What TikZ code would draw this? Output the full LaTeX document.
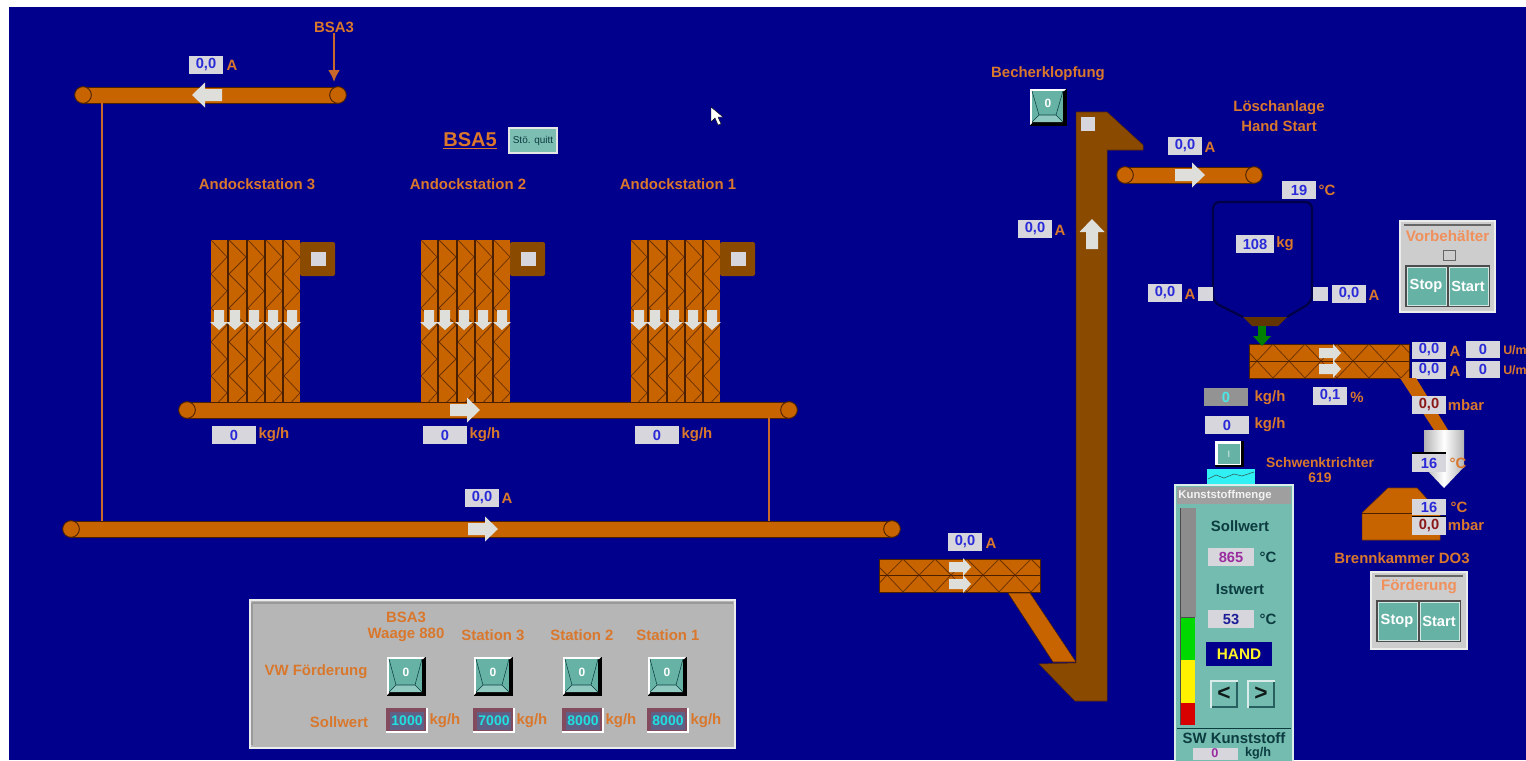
\documentclass[tikz,border=0pt]{standalone}
\usepackage{fontspec}
\usetikzlibrary{arrows.meta}
\setmainfont{Liberation Sans}
\definecolor{bgnavy}{HTML}{00008C}
\definecolor{belt}{HTML}{C86400}
\definecolor{brownd}{HTML}{8A4A00}
\definecolor{edge}{HTML}{4A2000}
\definecolor{lbl}{HTML}{D9782D}
\definecolor{salmon}{HTML}{F0905C}
\definecolor{boxg}{HTML}{D6D6DC}
\definecolor{valblue}{HTML}{2A2AD8}
\definecolor{teal}{HTML}{66B3A6}
\definecolor{tealb}{HTML}{74BCB0}
\definecolor{tealdark}{HTML}{0C3C40}
\definecolor{panelg}{HTML}{B6B6B6}
\definecolor{panell}{HTML}{CDCDCD}
\definecolor{arrg}{HTML}{DEDEDA}
\definecolor{feedl}{HTML}{C8682C}
\definecolor{hop}{HTML}{000048}
\definecolor{darkred}{HTML}{8A1818}
\definecolor{purp}{HTML}{9A2CA0}
\definecolor{cyanv}{HTML}{20E0E0}
\definecolor{cyanp}{HTML}{30F0F4}
\newcounter{nn}
\tikzset{
  x=0.75pt,y=-0.75pt,
  lbltxt/.style={text=lbl,font=\fontsize{11.2}{13}\selectfont\bfseries,inner sep=0pt},
  lblsm/.style={text=lbl,font=\fontsize{10.4}{12}\selectfont\bfseries,inner sep=0pt},
  darktxt/.style={text=tealdark,font=\fontsize{11.2}{13}\selectfont\bfseries,inner sep=0pt},
  valnode/.style={fill=boxg,inner sep=0pt,font=\fontsize{11}{12}\selectfont\bfseries},
  zz/.style={draw=edge!75!belt,line width=0.55pt},
  beltbar/.style={fill=belt,draw=edge,line width=0.7pt,inner sep=0pt},
  wheel/.style={circle,fill=belt,draw=edge,line width=0.7pt,inner sep=0pt,minimum size=12.5pt},
  feed/.style={draw=feedl,line width=2pt},
  arrshape/.style={fill=arrg,draw=none},
}
% text label
\newcommand{\lab}[4][lbltxt]{\stepcounter{nn}\node[#1] (t\arabic{nn}) at (#2,#3) {#4};}
% value box: cx cy w h text colour
\newcommand{\val}[6]{\stepcounter{nn}\node[valnode,text=#6,minimum width=#3*0.75pt,minimum height=#4*0.75pt] (v\arabic{nn}) at (#1,#2) {#5};}
% block arrow: cx cy rot halflen
\newcommand{\blk}[4]{\begin{scope}[shift={(#1,#2)},rotate=#3]
  \fill[arrshape] (-#4,-6)--(#4-13,-6)--(#4-13,-12.5)--(#4,0)--(#4-13,12.5)--(#4-13,6)--(-#4,6)--cycle;\end{scope}}
\newcommand{\blks}[4]{\begin{scope}[shift={(#1,#2)},rotate=#3]
  \fill[arrshape] (-#4,-5)--(#4-8,-5)--(#4-8,-9)--(#4,0)--(#4-8,9)--(#4-8,5)--(-#4,5)--cycle;\end{scope}}
% belt: name xL xR y
\newcommand{\beltc}[4]{\node[beltbar,minimum width={(#3-#2)*0.75pt},minimum height=12pt] (#1) at ({(#2+#3)/2},#4) {};
  \node[wheel] (#1L) at (#2,#4) {}; \node[wheel] (#1R) at (#3,#4) {};}
% horizontal screw row; the zigzag starts on the edge at y=#2
\newcommand{\hscrew}[4]{\fill[belt] (#1,#2) rectangle (#3,#4);
  \begin{scope}\clip (#1,#2) rectangle (#3,#4);
  \foreach \t in {-8,24,...,170}{\draw[zz] (#1+\t,#2)--(#1+\t+16,#4)--(#1+\t+32,#2);}
  \end{scope}\draw[edge,line width=0.7pt] (#1,#2) rectangle (#3,#4);}
% vertical screw column
\newcommand{\vscrew}[4]{\fill[belt] (#1,#2) rectangle (#3,#4);
  \begin{scope}\clip (#1,#2) rectangle (#3,#4);
  \foreach \t in {0,34,...,170}{\draw[zz] (#1,#2+\t)--(#3,#2+\t+17)--(#1,#2+\t+34);}
  \end{scope}}
% dock station
\newcommand{\dock}[1]{\begin{scope}[shift={(#1,0)}]
  \foreach \a/\b in {211/227,229/246,248/264,266/282,284/300}{\vscrew{\a}{240}{\b}{402}}
  \foreach \a/\b in {228/228,247/247,265/265,283/283}{\draw[edge,line width=1pt] (\a,240)--(\b,402);}
  \fill[brownd,rounded corners=1.5pt] (300,242) rectangle (335,276);
  \fill[boxg] (311,252) rectangle (326,266);
  \foreach \c in {219,235,254,273,292}{\blks{\c}{320}{-90}{10}}
  \end{scope}}
% pushbutton: cx cy half text
\newcommand{\btn}[4][white]{\begin{scope}[shift={(#2,#3)}]
  \fill[black] (-#4,-#4)--(#4+1,-#4)--(#4+1,#4+1)--(-#4,#4+1)--cycle;
  \fill[white] (-#4,-#4)--(#4,-#4)--(#4-2,-#4+2)--(-#4+2,-#4+2)--(-#4+2,#4-2)--(-#4,#4)--cycle;
  \fill[teal] (-#4+2,-#4+2) rectangle (#4-3,#4-3);
  \fill[tealb!80!white] (-#4+2,#4-3)--(-#4+9,#4-10)--(#4-10,#4-10)--(#4-3,#4-3)--cycle;
  \draw[tealdark,line width=0.4pt] (-#4+2,-#4+2)--(-#4+9,#4-10)--(#4-10,#4-10)--(#4-3,-#4+2) (-#4+2,#4-3)--(-#4+9,#4-10) (#4-10,#4-10)--(#4-3,#4-3);
  \stepcounter{nn}\node[inner sep=0pt,text=white,font=\fontsize{9}{10}\selectfont\bfseries] (b\arabic{nn}) at (0,-4) {#1};
  \end{scope}}
% recessed setpoint box
\newcommand{\setp}[3]{\fill[white] (#1,#2) rectangle (#1+42,#2+25);
  \fill[black!60!purple!70!white] (#1,#2) rectangle (#1+40,#2+23);
  \stepcounter{nn}\node[fill=black!40!blue!25!gray,inner sep=0pt,minimum width=26pt,minimum height=14pt,text=cyanv,font=\fontsize{10.5}{11}\selectfont\bfseries] (s\arabic{nn}) at (#1+21,#2+13) {#3};
  \lab{#1+59}{#2+13}{kg/h}}
% stop/start panel
\newcommand{\stopstart}[6]{\fill[panell,draw=white!85!gray,line width=2pt] (#1,#2) rectangle (#3,#4);
  \draw[black!60,line width=0.8pt] (#1+4,#2+4) -- (#3-4,#2+4);
  \stepcounter{nn}\node[inner sep=0pt,text=salmon,font=\fontsize{11.4}{13}\selectfont\bfseries] (p\arabic{nn}) at ({(#1+#3)/2},#2+15) {#5};
  \begin{scope}[shift={(#1,#6)}]
  \fill[black!70] (5,0) rectangle (90,42);
  \fill[teal,draw=white!70!teal,line width=.5pt] (7,2) rectangle (46,40);
  \fill[teal,draw=white!70!teal,line width=.5pt] (49,2) rectangle (88,40);
  \stepcounter{nn}\node[inner sep=0pt,text=white,font=\fontsize{11}{12}\selectfont\bfseries] (p\arabic{nn}) at (26,21) {Stop};
  \stepcounter{nn}\node[inner sep=0pt,text=white,font=\fontsize{11}{12}\selectfont\bfseries] (p\arabic{nn}) at (68,21) {Start};
  \end{scope}}
\begin{document}
\begin{tikzpicture}
\useasboundingbox (0,0) rectangle (1526,760);
\clip (0,0) rectangle (1526,760);
\fill[white] (0,0) rectangle (1526,760);
\fill[bgnavy] (9,7) rectangle (1526,760);
% connectors behind belts
\coordinate (xa) at (102,0);
\coordinate (xb) at (769,0);
\coordinate (xc) at (334,0);
\coordinate (tipA) at (334,82);
\node[lbltxt] (bsaT) at (334,27) {BSA3};
% docks first
\dock{0}\dock{210}\dock{420}
% belts
\beltc{beltA}{83}{338}{95}
\beltc{beltM}{187}{789}{410}
\beltc{beltL}{71}{892}{529}
\beltc{beltU}{1125}{1254}{175}
\draw[feed] (beltA.south -| xa) -- (beltL.north -| xa);
\draw[feed] (beltM.south -| xb) -- (beltL.north -| xb);
\draw[feed,-{Latex[length=9pt,width=9pt]}] (bsaT.south -| xc) -- (tipA);
\blk{207}{95}{180}{15}
\blk{465}{410}{0}{15}
\blk{483}{529}{0}{15}
\blk{1190}{175}{0}{15}
% left value labels
\val{206}{65}{34}{18}{0,0}{valblue}\lab{232}{65}{A}
\val{482}{498}{34}{18}{0,0}{valblue}\lab{507}{498}{A}
\foreach \x in {234,445,657}{\val{\x}{435}{44}{18}{0}{valblue}\lab{\x+40}{435}{kg/h}}
\lab{257}{184}{Andockstation 3}
\lab{468}{184}{Andockstation 2}
\lab{678}{184}{Andockstation 1}
\node[text=lbl,font=\fontsize{15}{17}\selectfont\bfseries,inner sep=0pt] (bsa5) at (470,141) {\underline{BSA5}};
\fill[white!80!gray] (508,127) rectangle (558,154);
\node[fill=teal!85!white,inner sep=0pt,minimum width=34.5pt,minimum height=17pt,font=\fontsize{7.5}{8}\selectfont,text=tealdark] (quitt) at (533,140.5) {Stö. quitt};
% cursor
\fill[white,draw=black,line width=.3pt] (711,107)--(711,122)--(715,118)--(718,125)--(721,124)--(718,117)--(723,117)--cycle;
% lower panel
\fill[panelg,draw=white!85!gray,line width=1.2pt] (250,600) rectangle (735,748);
\draw[black!40,line width=1pt] (252,603)--(733,603) (252,603)--(252,745);
\lab{406}{617}{BSA3}\lab{406}{635}{Waage 880}\lab{493}{635}{Station 3}\lab{582}{635}{Station 2}\lab{668}{635}{Station 1}
\lab{316}{672}{VW Förderung}\lab{339}{722}{Sollwert}
\foreach \x in {406,493,582,667}{\btn[0]{\x}{676}{19}}
\setp{386}{708}{1000}\setp{473}{708}{7000}\setp{562}{708}{8000}\setp{647}{708}{8000}
% lower screw and elevator
\fill[belt,draw=edge,line width=.4pt] (1008,593)--(1030,593)--(1076,662)--(1053,662)--cycle;
\hscrew{879}{559}{1040}{575}\hscrew{879}{592}{1040}{575}
\blks{960}{567}{0}{11}\blks{960}{584}{0}{11}
\val{965}{542}{34}{18}{0,0}{valblue}\lab{991}{543}{A}
\fill[brownd,draw=edge!70!brownd,line width=.4pt] (1076,112)--(1107,112)--(1143,145)--(1143,150)--(1107,150)--(1107,701)--(1075,701)--(1039,664)--(1076,663)--cycle;
\fill[boxg] (1081,117) rectangle (1095,131);
\blk{1092}{234}{90}{15}
\val{1035}{229}{34}{18}{0,0}{valblue}\lab{1060}{230}{A}
\lab{1048}{74}{Becherklopfung}
\btn[0]{1048}{107}{18}
\val{1185}{146}{34}{18}{0,0}{valblue}\lab{1210}{147}{A}
\lab{1279}{108}{Löschanlage}\lab{1279}{126}{Hand Start}
% hopper
\fill[brownd!70!black] (1243,317)--(1287,317)--(1278,326)--(1252,326)--cycle;
\draw[hop,line width=1.7pt,rounded corners=5pt] (1243,317)--(1213,302)--(1213,202)--(1312,202)--(1312,302)--(1287,317);
\val{1299}{190}{34}{18}{19}{valblue}\lab{1327}{190}{°C}
\val{1255}{244}{38}{18}{108}{valblue}\lab{1285}{244}{kg}
\fill[boxg] (1198,287) rectangle (1213,301);
\fill[boxg] (1313,287) rectangle (1328,301);
\val{1165}{293}{34}{18}{0,0}{valblue}\lab{1190}{294}{A}
\val{1349}{294}{34}{18}{0,0}{valblue}\lab{1374}{295}{A}
% dosing screw
\hscrew{1249}{344}{1409}{361}\hscrew{1249}{378}{1409}{361}
\fill[green!50!black] (1258,326) rectangle (1266,337);
\fill[green!50!black] (1253,336)--(1271,336)--(1262,346)--cycle;
\blks{1330}{353}{0}{11}\blks{1330}{369}{0}{11}
\val{1429}{350}{34}{17}{0,0}{valblue}\val{1429}{370}{34}{17}{0,0}{valblue}
\lab{1455}{351}{A}\lab{1455}{371}{A}
\val{1483}{349}{34}{17}{0}{valblue}\val{1483}{369}{34}{17}{0}{valblue}
\node[lbltxt,font=\fontsize{9.3}{11}\selectfont\bfseries,anchor=west] (um1) at (1503,350) {U/m};
\node[lbltxt,font=\fontsize{9.3}{11}\selectfont\bfseries,anchor=west] (um2) at (1503,370) {U/m};
\val{1330}{396}{34}{18}{0,1}{valblue}\lab{1357}{397}{\%}
\fill[gray!85] (1204,388) rectangle (1248,406);
\node[inner sep=0pt,text=cyanv!80!white,font=\fontsize{11}{12}\selectfont\bfseries] (k0) at (1226,397) {0};
\lab{1270}{398}{kg/h}
\val{1227}{425}{44}{18}{0}{valblue}\lab{1270}{425}{kg/h}
% small switch and Schwenktrichter
\fill[black] (1215,441) rectangle (1244,467);
\fill[white] (1215,441) rectangle (1241,465);
\node[fill=teal,inner sep=0pt,minimum width=17pt,minimum height=15.5pt,text=white!80!teal,font=\fontsize{7}{8}\selectfont] (sw) at (1229,454) {I};
\fill[cyanp] (1207,469) rectangle (1255,484);
\draw[teal!50!black,line width=.4pt] (1208,479)--(1216,475)--(1224,478)--(1234,474)--(1242,476)--(1254,472);
\lab[lblsm]{1320}{463}{Schwenktrichter}\lab[lblsm]{1320}{478}{619}
% chute and cyclone
\fill[belt] (1400,378)--(1416,378)--(1448,430)--(1434,430)--cycle;
\val{1429}{405}{34}{18}{0,0}{darkred}\lab{1466}{405}{mbar}
\shade[left color=gray!60,right color=gray!60,middle color=white] (1424,430) rectangle (1464,467);
\shade[left color=gray!60,right color=gray!60,middle color=white] (1424,467)--(1464,467)--(1444,488)--cycle;
\draw[black,line width=.8pt] (1412,453)--(1446,453);
\lab{1458}{463}{°C}
\val{1429}{463}{34}{18}{16}{valblue}
% burner
\fill[belt,draw=edge!60!belt,line width=.4pt] (1362,513)--(1388,488)--(1417,488)--(1440,513)--(1440,540)--(1362,540)--cycle;
\draw[edge,line width=.5pt] (1362,513)--(1440,513);
\val{1429}{507}{34}{16}{16}{valblue}\lab{1459}{507}{°C}
\val{1429}{526}{34}{18}{0,0}{darkred}\lab{1466}{525}{mbar}
\draw[black,line width=.6pt] (1412,516)--(1446,516);
\lab{1402}{558}{Brennkammer DO3}
\stopstart{1400}{221}{1495}{312}{Vorbehälter}{265}
\fill[panell,draw=black!60,line width=.7pt] (1443,250) rectangle (1455,260);
\stopstart{1371}{572}{1467}{649}{Förderung}{600}
% Kunststoffmenge panel
\fill[tealb,draw=white!75!teal,line width=1.5pt] (1175,485) rectangle (1293,772);
\fill[gray!75] (1177,487) rectangle (1291,504);
\node[inner sep=0pt,text=white!90!gray,font=\fontsize{8.5}{10}\selectfont\bfseries] (kt) at (1225,496) {Kunststoffmenge};
\fill[gray!90] (1180,508) rectangle (1196,617);
\fill[green!85!black] (1181,617) rectangle (1195,660);
\fill[yellow] (1181,660) rectangle (1195,703);
\fill[red!85!black] (1181,703) rectangle (1195,725);
\draw[gray!60!black,line width=.5pt] (1180,508)--(1180,725) (1181,617)--(1195,617);
\lab[darktxt]{1240}{526}{Sollwert}
\val{1231}{557}{46}{18}{865}{purp}\lab[darktxt]{1268}{557}{°C}
\lab[darktxt]{1240}{589}{Istwert}
\val{1231}{619}{46}{18}{53}{valblue!70!black}\lab[darktxt]{1268}{619}{°C}
\node[fill=bgnavy,inner sep=0pt,minimum width=50pt,minimum height=18pt,text=yellow!85!white,font=\fontsize{11.5}{13}\selectfont\bfseries] (hand) at (1239,654) {HAND};
\foreach \a/\s in {1224/<,1261/>}{
  \fill[white!75!teal] (\a-14,680) rectangle (\a+14,708);
  \fill[tealdark!70!teal] (\a-12,682) rectangle (\a+14,708);
  \stepcounter{nn}\node[fill=tealb,inner sep=0pt,minimum width=18pt,minimum height=18pt,text=black!85!teal,font=\fontsize{17}{18}\selectfont\bfseries] (c\arabic{nn}) at (\a,694) {\s};}
\draw[tealdark,line width=.6pt] (1177,728)--(1291,728);
\lab[darktxt]{1234}{738}{SW Kunststoff}
\fill[boxg] (1193,748) rectangle (1238,760);
\node[inner sep=0pt,text=purp,font=\fontsize{9.5}{10}\selectfont\bfseries] (sw0) at (1215,753) {0};
\node[darktxt,font=\fontsize{9.5}{10}\selectfont\bfseries] (swu) at (1258,753) {kg/h};
\end{tikzpicture}
\end{document}
